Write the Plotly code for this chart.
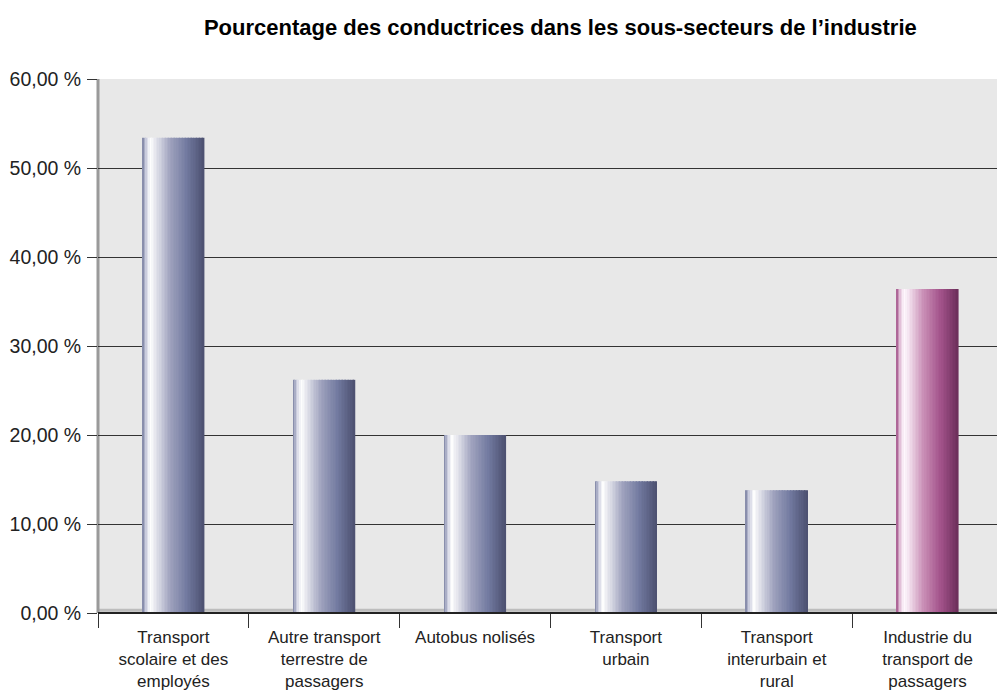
import plotly.graph_objects as go

categories = [
    "Transport<br>scolaire et des<br>employés",
    "Autre transport<br>terrestre de<br>passagers",
    "Autobus nolisés",
    "Transport<br>urbain",
    "Transport<br>interurbain et<br>rural",
    "Industrie du<br>transport de<br>passagers",
]
pct_women = [53.4, 26.2, 20.0, 14.8, 13.8, 36.4]
y_ticks = [0, 10, 20, 30, 40, 50, 60]
y_tick_labels = ["0,00 %", "10,00 %", "20,00 %", "30,00 %", "40,00 %", "50,00 %", "60,00 %"]

# gradient stops (position across bar width, color) for the two bar styles
blue_stops = [(0.0, (120, 126, 160)), (0.06, (200, 202, 220)), (0.13, (255, 255, 255)),
              (0.45, (160, 163, 190)), (0.72, (114, 122, 160)), (1.0, (76, 80, 112))]
purple_stops = [(0.0, (160, 80, 136)), (0.06, (225, 190, 215)), (0.13, (255, 250, 255)),
                (0.45, (200, 140, 180)), (0.72, (162, 82, 138)), (1.0, (108, 46, 90))]


def grad(stops, t):
    for (p0, c0), (p1, c1) in zip(stops, stops[1:]):
        if p0 <= t <= p1:
            f = (t - p0) / (p1 - p0)
            c = [round(a + (b - a) * f) for a, b in zip(c0, c1)]
            return f"rgb({c[0]},{c[1]},{c[2]})"
    c = stops[-1][1]
    return f"rgb({c[0]},{c[1]},{c[2]})"


fig = go.Figure()

# each bar drawn as thin slices to fake the horizontal gradient
n_slices = 40
bar_w = 0.41
slice_w = bar_w / n_slices
for i in range(n_slices):
    t = (i + 0.5) / n_slices
    colors = [grad(blue_stops, t)] * 5 + [grad(purple_stops, t)]
    fig.add_trace(go.Bar(
        x=categories, y=pct_women,
        width=slice_w * 1.05, offset=-bar_w / 2 + i * slice_w,
        marker=dict(color=colors, line=dict(width=0)),
        showlegend=False, hoverinfo="skip" if i else "y",
    ))

# floor and left wall
fig.add_shape(type="line", xref="paper", yref="paper", x0=0, x1=1, y0=0.005, y1=0.005,
              line=dict(color="#bdbdbd", width=3), layer="below")
fig.add_shape(type="line", xref="paper", yref="paper", x0=0, x1=1, y0=0, y1=0,
              line=dict(color="#222222", width=2))
fig.add_shape(type="line", xref="paper", yref="paper", x0=0, x1=0, y0=0, y1=1,
              line=dict(color="#9a9a9a", width=3), layer="below")

fig.update_layout(
    width=997, height=690,
    barmode="overlay",
    title=dict(text="<b>Pourcentage des conductrices dans les sous-secteurs de l’industrie</b>",
               x=0.554, xanchor="center", y=0.972, yanchor="middle",
               font=dict(family="Liberation Sans, Arial", size=22, color="#000000")),
    font=dict(family="Liberation Sans, Arial", size=17, color="#222222"),
    paper_bgcolor="white",
    plot_bgcolor="#e8e8e8",
    margin=dict(l=88, r=2, t=71, b=85),
    xaxis=dict(
        type="category", tickson="boundaries", ticks="outside", ticklen=14,
        tickcolor="#333333", showgrid=False, showline=False,
        ticklabelstandoff=12,
        tickfont=dict(size=17, color="#222222"),
    ),
    yaxis=dict(
        range=[0, 60], tickmode="array", tickvals=y_ticks, ticktext=y_tick_labels,
        ticks="outside", ticklen=10, tickcolor="#333333",
        showgrid=True, gridcolor="#333333", gridwidth=1,
        zeroline=False, showline=False, ticklabelstandoff=2,
        tickfont=dict(size=19.5, color="#222222"),
    ),
)

fig.write_html("out.html")
